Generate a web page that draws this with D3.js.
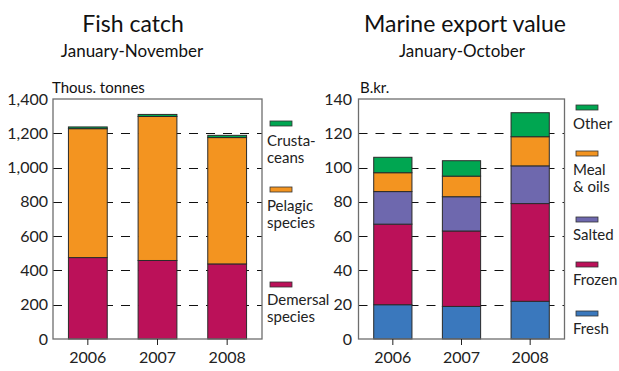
<!DOCTYPE html>
<html>
<head>
<meta charset="utf-8">
<script src="https://cdn.jsdelivr.net/npm/d3@7/dist/d3.min.js"></script>
<style>
  html, body { margin: 0; padding: 0; background: #fff; }
  svg { display: block; font-family: Lato, "Open Sans", sans-serif; }
</style>
</head>
<body>
<svg id="chart" width="619" height="371"></svg>
<script>
// Years shown on both panels
const years = ["2006", "2007", "2008"];

// Fish catch, thousand tonnes (January-November)
const demersal = [475, 458, 438];
const pelagic = [752, 840, 737];
const crustaceans = [10, 12, 13];
const catchTicks = [0, 200, 400, 600, 800, 1000, 1200, 1400];

// Marine export value, billion kroner (January-October)
const fresh = [20, 19, 22];
const frozen = [47, 44, 57];
const salted = [19, 20, 22];
const mealOils = [11, 12, 17];
const other = [9, 9, 14];
const exportTicks = [0, 20, 40, 60, 80, 100, 120, 140];

const svg = d3.select("#chart");
const FONT = "Lato, 'Open Sans', sans-serif";

function panel(opts) {
  const g = svg.append("g");
  const { x0, x1, yTop, yBottom } = opts;

  const x = d3.scaleBand().domain(years).range([x0, x1])
    .paddingInner(0.443).paddingOuter(0.2215);
  const y = d3.scaleLinear().domain([0, opts.max]).range([yBottom, yTop]);

  // titles
  g.append("text").attr("x", opts.titleX).attr("y", 32)
    .attr("text-anchor", "middle").attr("font-size", 23).attr("fill", "#111")
    .text(opts.title);
  g.append("text").attr("x", opts.subX).attr("y", 57)
    .attr("text-anchor", "middle").attr("font-size", 17).attr("fill", "#111")
    .text(opts.subtitle);
  g.append("text").attr("x", opts.unitX).attr("y", 93)
    .attr("font-size", 15).attr("fill", "#111").text(opts.unit);

  // dashed gridlines
  g.append("g").selectAll("line")
    .data(opts.ticks.filter(t => t > 0 && t < opts.max))
    .join("line")
    .attr("x1", x0).attr("x2", x1)
    .attr("y1", d => Math.round(y(d)) + 0.5).attr("y2", d => Math.round(y(d)) + 0.5)
    .attr("stroke", "#111").attr("stroke-width", 1.1)
    .attr("stroke-dasharray", "9,8");

  // stacked bars
  const keys = opts.series.map(s => s.key);
  const rows = years.map((yr, i) => {
    const r = { year: yr };
    opts.series.forEach(s => { r[s.key] = s.values[i]; });
    return r;
  });
  const stacked = d3.stack().keys(keys)(rows);
  const color = d3.scaleOrdinal().domain(keys).range(opts.series.map(s => s.color));

  g.append("g").selectAll("g").data(stacked).join("g")
    .attr("fill", d => color(d.key))
    .selectAll("rect").data(d => d).join("rect")
    .attr("x", d => x(d.data.year))
    .attr("width", x.bandwidth())
    .attr("y", d => y(d[1]))
    .attr("height", d => y(d[0]) - y(d[1]))
    .attr("stroke", "#2a2a2a").attr("stroke-width", 1);

  // frame
  g.append("rect").attr("x", x0).attr("y", yTop)
    .attr("width", x1 - x0).attr("height", yBottom - yTop)
    .attr("fill", "none").attr("stroke", "#6e6e6e").attr("stroke-width", 1.3);

  // y axis labels
  const yAxis = d3.axisLeft(y).tickValues(opts.ticks).tickSize(0).tickPadding(0)
    .tickFormat(opts.format);
  const ya = g.append("g").attr("transform", `translate(${opts.labelRight},0)`).call(yAxis);
  ya.select(".domain").remove();
  ya.selectAll("text").attr("font-size", 16).attr("fill", "#222")
    .attr("font-family", FONT);

  // x axis
  const xAxis = d3.axisBottom(x).tickSize(6).tickPadding(7);
  const xa = g.append("g").attr("transform", `translate(0,${yBottom})`).call(xAxis);
  xa.select(".domain").remove();
  xa.selectAll("line").attr("stroke", "#222");
  xa.selectAll("text").attr("font-size", 16).attr("fill", "#222")
    .attr("font-family", FONT);

  // legend, listed top to bottom
  const leg = g.append("g");
  opts.legend.forEach(item => {
    leg.append("rect").attr("x", opts.legX).attr("y", item.sy)
      .attr("width", 22).attr("height", 5)
      .attr("fill", color(item.key)).attr("stroke", "#333").attr("stroke-width", 0.8);
    const t = leg.append("text").attr("x", opts.legX - 3).attr("y", item.ty)
      .attr("font-size", 15).attr("fill", "#222");
    item.lines.forEach((line, j) => {
      t.append("tspan").attr("x", opts.legX - 3).attr("dy", j === 0 ? 0 : 17).text(line);
    });
  });
}

panel({
  x0: 53, x1: 262, yTop: 99, yBottom: 339, max: 1400,
  ticks: catchTicks, format: d3.format(","),
  labelRight: 48,
  title: "Fish catch", titleX: 133,
  subtitle: "January-November", subX: 132,
  unit: "Thous. tonnes", unitX: 52,
  series: [
    { key: "Demersal species", values: demersal, color: "#bb1159" },
    { key: "Pelagic species", values: pelagic, color: "#f39420" },
    { key: "Crustaceans", values: crustaceans, color: "#00a651" }
  ],
  legX: 270,
  legend: [
    { key: "Crustaceans", sy: 121, ty: 146, lines: ["Crusta-", "ceans"] },
    { key: "Pelagic species", sy: 187, ty: 211, lines: ["Pelagic", "species"] },
    { key: "Demersal species", sy: 282, ty: 305, lines: ["Demersal", "species"] }
  ]
});

panel({
  x0: 358.5, x1: 564.5, yTop: 99, yBottom: 339, max: 140,
  ticks: exportTicks, format: d3.format("d"),
  labelRight: 352,
  title: "Marine export value", titleX: 465,
  subtitle: "January-October", subX: 462,
  unit: "B.kr.", unitX: 360,
  series: [
    { key: "Fresh", values: fresh, color: "#3a78bd" },
    { key: "Frozen", values: frozen, color: "#bb1159" },
    { key: "Salted", values: salted, color: "#6e68ae" },
    { key: "Meal & oils", values: mealOils, color: "#f39420" },
    { key: "Other", values: other, color: "#00a651" }
  ],
  legX: 576,
  legend: [
    { key: "Other", sy: 105, ty: 129, lines: ["Other"] },
    { key: "Meal & oils", sy: 151, ty: 175, lines: ["Meal", "& oils"] },
    { key: "Salted", sy: 217, ty: 240, lines: ["Salted"] },
    { key: "Frozen", sy: 262, ty: 285, lines: ["Frozen"] },
    { key: "Fresh", sy: 311, ty: 334, lines: ["Fresh"] }
  ]
});
</script>
</body>
</html>
